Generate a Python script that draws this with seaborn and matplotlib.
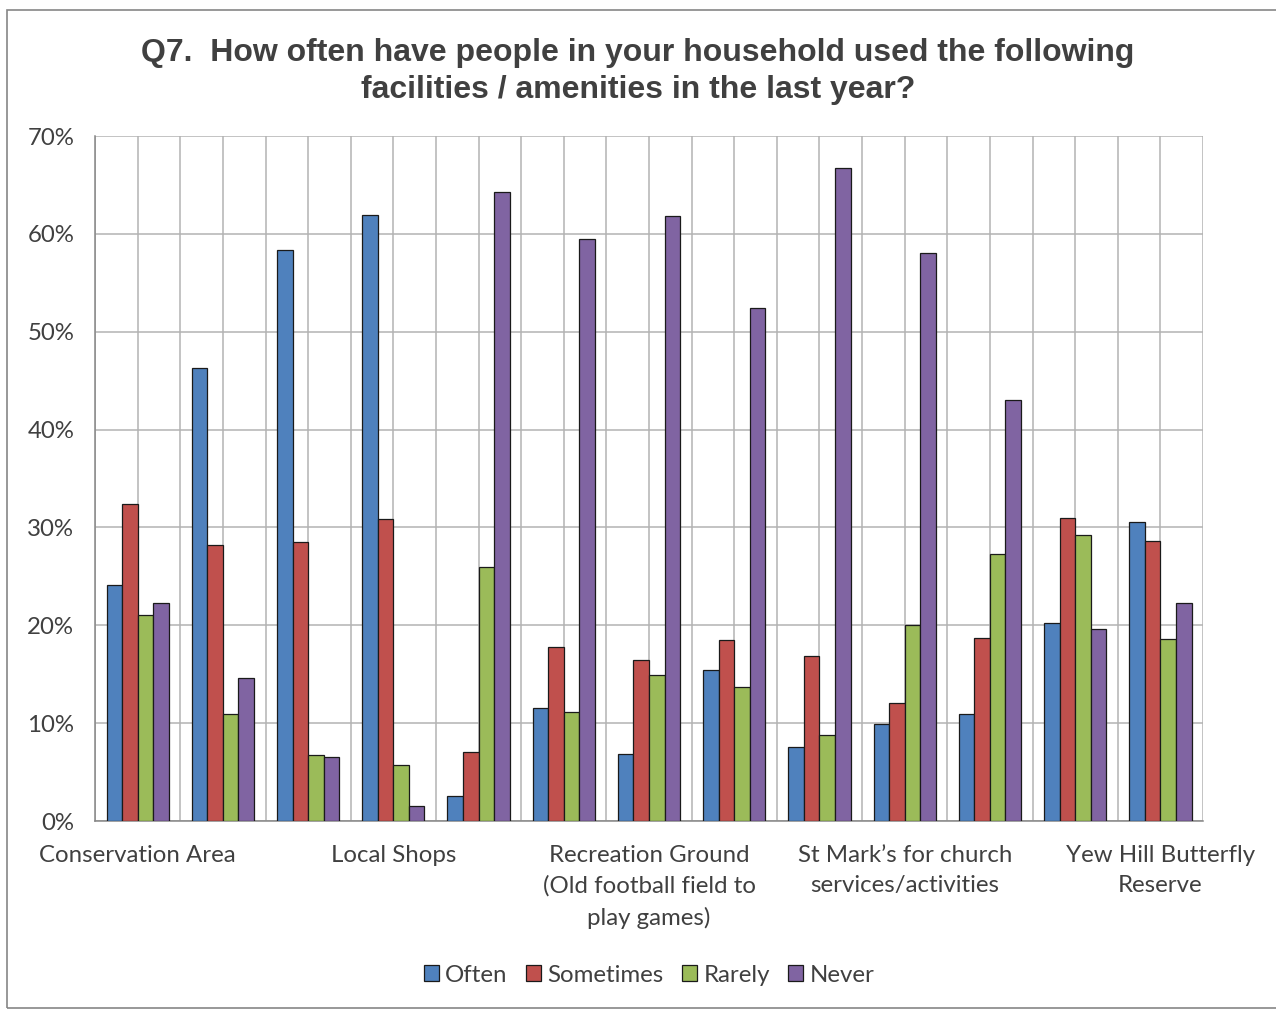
import numpy as np
import pandas as pd
import seaborn as sns
import matplotlib.pyplot as plt
from matplotlib.patches import Rectangle

# facility categories (only every third label is printed on the axis)
facilities = [
    "Conservation Area", "Facility 2", "Facility 3", "Local Shops",
    "Facility 5", "Facility 6",
    "Recreation Ground\n(Old football field to\nplay games)",
    "Facility 8", "Facility 9",
    "St Mark\u2019s for church\nservices/activities",
    "Facility 11", "Facility 12", "Yew Hill Butterfly\nReserve",
]
shown_labels = {0, 3, 6, 9, 12}

responses = ["Often", "Sometimes", "Rarely", "Never"]
often = [24.1, 46.3, 58.4, 61.9, 2.6, 11.6, 6.9, 15.4, 7.6, 9.9, 10.9, 20.2, 30.6]
sometimes = [32.4, 28.2, 28.5, 30.9, 7.1, 17.8, 16.5, 18.5, 16.9, 12.1, 18.7, 31.0, 28.6]
rarely = [21.1, 10.9, 6.7, 5.7, 26.0, 11.1, 14.9, 13.7, 8.8, 20.0, 27.3, 29.2, 18.6]
never = [22.3, 14.6, 6.5, 1.5, 64.3, 59.5, 61.8, 52.4, 66.7, 58.0, 43.0, 19.6, 22.3]

colors = ["#4F81BD", "#C0504D", "#9BBB59", "#8064A2"]

df = pd.DataFrame({
    "Facility": facilities * 4,
    "Response": np.repeat(responses, len(facilities)),
    "Percent": often + sometimes + rarely + never,
})

sns.set_theme(style="white")
plt.rcParams['font.family'] = ['Lato', 'DejaVu Sans']

fig = plt.figure(figsize=(12.76, 10.10), dpi=100)
ax = fig.add_axes([0.0745, 0.1871, 0.8683, 0.6782])

sns.barplot(data=df, x="Facility", y="Percent", hue="Response",
            order=facilities, hue_order=responses, palette=colors,
            width=0.73, gap=0, saturation=1, edgecolor="#1a1a1a",
            linewidth=0.9, errorbar=None, ax=ax, zorder=3)

ax.set_xlim(-0.5, len(facilities) - 0.5)
ax.set_ylim(0, 70)
ax.set_yticks(range(0, 71, 10))
ax.set_yticklabels([f"{v}%" for v in range(0, 71, 10)])

ax.set_xticks(range(len(facilities)))
ax.set_xticklabels([f if i in shown_labels else "" for i, f in enumerate(facilities)],
                   linespacing=1.55)
ax.set_xticks(np.arange(-0.5, len(facilities), 1.0), minor=True)

ax.tick_params(axis="x", which="major", length=0, pad=17, labelsize=17.3, colors="#404040")
ax.tick_params(axis="x", which="minor", length=7, width=1, color="#868686", direction="out")
ax.tick_params(axis="y", length=7, width=1, color="#868686", direction="out",
               labelsize=17.3, labelcolor="#404040", pad=8)

ax.grid(axis="y", color="#b3b3b3", linewidth=1.1, zorder=0)
ax.grid(axis="x", which="both", color="#b3b3b3", linewidth=1.1, zorder=0)
ax.set_axisbelow(True)

for side in ["top", "right"]:
    ax.spines[side].set_visible(False)
for side in ["left", "bottom"]:
    ax.spines[side].set_color("#868686")
    ax.spines[side].set_linewidth(1.1)

ax.set_xlabel("")
ax.set_ylabel("")

leg = ax.legend(loc="center", bbox_to_anchor=(0.5, -0.225), ncol=4,
                frameon=False, fontsize=17.3, handlelength=0.65, handleheight=0.65,
                handletextpad=0.25, columnspacing=0.75)
for t in leg.get_texts():
    t.set_color("#404040")

fig.suptitle("Q7.  How often have people in your household used the following\n"
             "facilities / amenities in the last year?",
             x=0.5, y=0.962, fontsize=23, fontweight="bold", color="#404040",
             family="Liberation Sans", linespacing=1.27)

# outer chart border
fig.patches.append(Rectangle((7 / 1276, 2 / 1010), 1.2, 998 / 1010, transform=fig.transFigure,
                             fill=False, edgecolor="#868686", linewidth=1.2))

fig.savefig("out.png", dpi=100)
